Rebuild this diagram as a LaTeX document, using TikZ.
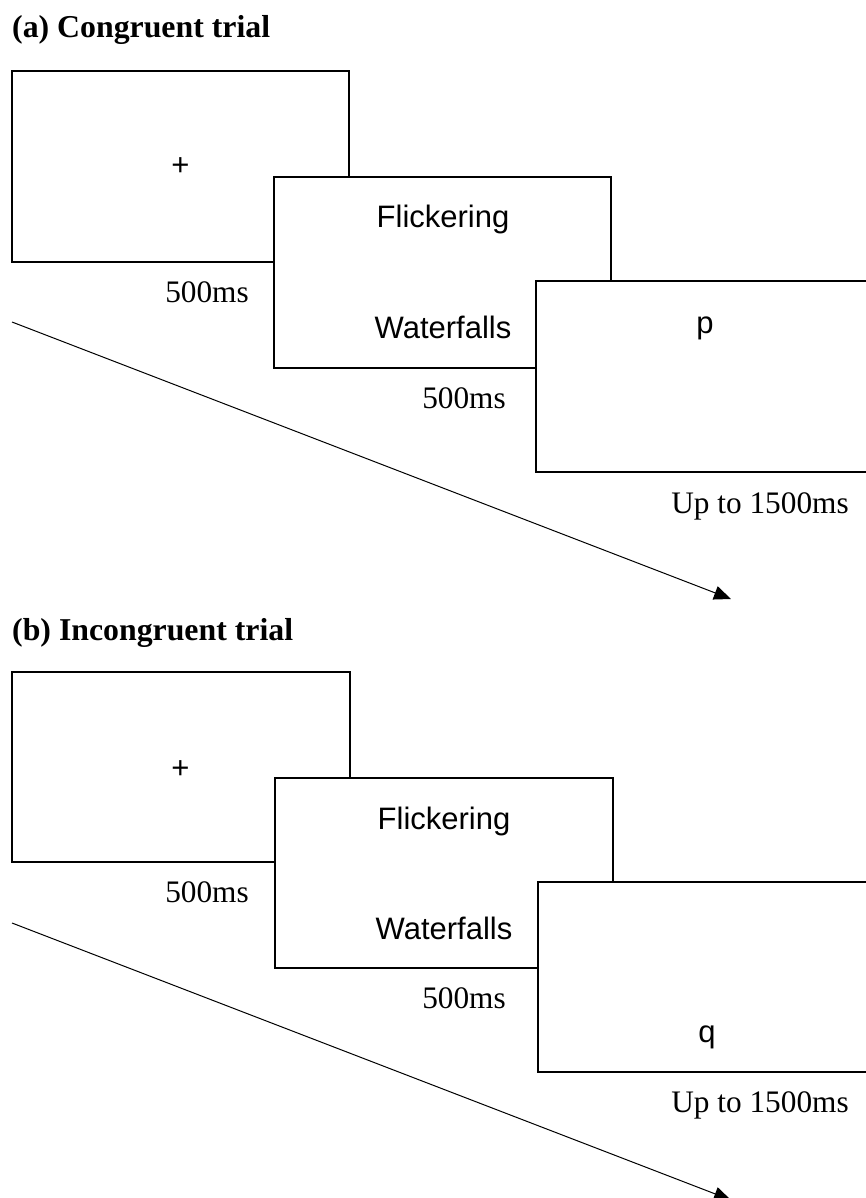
\documentclass[tikz,border=0pt]{standalone}
\usepackage{fontspec}
\setmainfont{Liberation Serif}
\newfontfamily\arialf{Liberation Sans}
\usetikzlibrary{arrows.meta}
\begin{document}
\begin{tikzpicture}[x=1pt,y=-1pt,
  scr/.style={draw, line width=1.6pt, fill=white, inner sep=0pt, outer sep=0pt, anchor=north west},
  title/.style={anchor=base west, inner sep=0pt, font=\fontsize{31.8}{38}\selectfont\bfseries},
  lab/.style={anchor=base, inner sep=0pt, font=\fontsize{31.3}{37}\selectfont},
  stim/.style={anchor=base, inner sep=0pt, font=\arialf\fontsize{31}{37}\selectfont},
  timearrow/.style={line width=1pt, -{Triangle[length=17pt,width=14pt]}}]
\useasboundingbox (0,0) rectangle (866,1198);

% ---------- (a) ----------
\node[title] (ta) at (12,38) {(a) Congruent trial};
\node[scr, minimum width=337pt, minimum height=191pt] (a1) at (12,71) {};
\node[stim] (a1t) at (180.5,176) {+};
\node[scr, minimum width=337pt, minimum height=191pt] (a2) at (274,177) {};
\node[stim] (a2t) at (443,228) {Flickering};
\node[stim] (a2b) at (443,338) {Waterfalls};
\node[scr, minimum width=344pt, minimum height=191pt] (a3) at (536,281) {};
\node[stim] (a3t) at (705,333) {p};
\node[lab] (l1) at (207,302) {500ms};
\node[lab] (l2) at (464,408) {500ms};
\node[lab] (l3) at (760,513) {Up to 1500ms};
\coordinate (as) at (12,322);
\coordinate (ae) at (731,599);
\draw[timearrow] (as) -- (ae);

% ---------- (b) ----------
\node[title] (tb) at (12,640) {(b) Incongruent trial};
\node[scr, minimum width=338pt, minimum height=190pt] (b1) at (12,672) {};
\node[stim] (b1t) at (180.5,778) {+};
\node[scr, minimum width=338pt, minimum height=190pt] (b2) at (275,778) {};
\node[stim] (b2t) at (444,829) {Flickering};
\node[stim] (b2b) at (444,939) {Waterfalls};
\node[scr, minimum width=342pt, minimum height=190pt] (b3) at (538,882) {};
\node[stim] (b3t) at (707,1042) {q};
\node[lab] (m1) at (207,902) {500ms};
\node[lab] (m2) at (464,1008) {500ms};
\node[lab] (m3) at (760,1112) {Up to 1500ms};
\coordinate (bs) at (12,923);
\coordinate (be) at (731,1200);
\draw[timearrow] (bs) -- (be);
\end{tikzpicture}
\end{document}
